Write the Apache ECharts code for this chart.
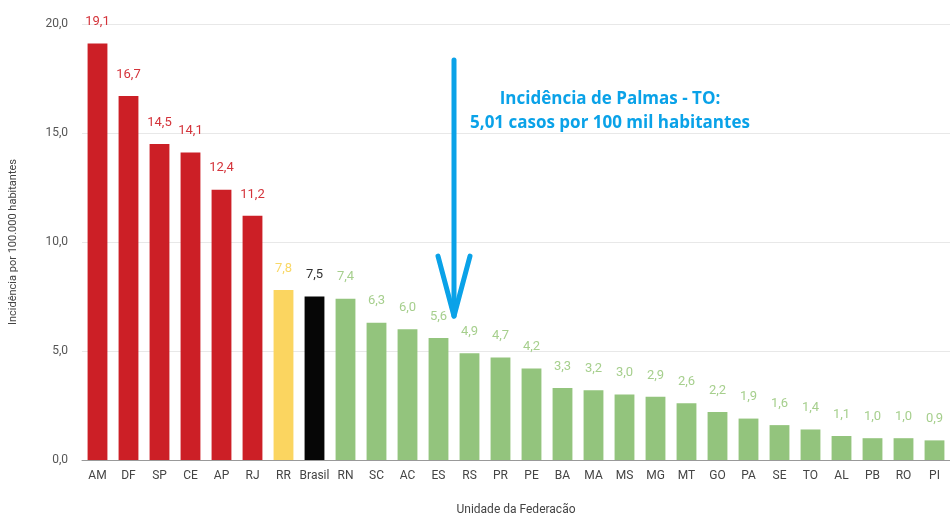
<!DOCTYPE html>
<html><head><meta charset="utf-8">
<script src="https://cdn.jsdelivr.net/npm/echarts@6/dist/echarts.min.js"></script>
<style>html,body{margin:0;padding:0;background:#fff}#c{width:950px;height:521px}</style>
</head><body><div id="c"></div>
<script>
const categories = ['AM','DF','SP','CE','AP','RJ','RR','Brasil','RN','SC','AC','ES','RS','PR','PE','BA','MA','MS','MG','MT','GO','PA','SE','TO','AL','PB','RO','PI'];
const values = [19.1,16.7,14.5,14.1,12.4,11.2,7.8,7.5,7.4,6.3,6.0,5.6,4.9,4.7,4.2,3.3,3.2,3.0,2.9,2.6,2.2,1.9,1.6,1.4,1.1,1.0,1.0,0.9];
const groups = ['red','red','red','red','red','red','yellow','black','green','green','green','green','green','green','green','green','green','green','green','green','green','green','green','green','green','green','green','green'];
const yTicks = [0,5,10,15,20];
const barColors = {red:'#cc1f26', yellow:'#fbd560', black:'#060606', green:'#93c47d'};
const labelColors = {red:'#d4333a', yellow:'#f9d867', black:'#333333', green:'#a6cf8d'};
const annotationLines = ['Incidência de Palmas - TO:', '5,01 casos por 100 mil habitantes'];

const chart = echarts.init(document.getElementById('c'));
const fmt = v => v.toFixed(1).replace('.', ',');
chart.setOption({
  animation:false,
  grid:{left:81, right:0, top:24, bottom:60},
  xAxis:{type:'category', data:categories,
    axisLine:{lineStyle:{color:'#999',width:1}}, axisTick:{show:false},
    axisLabel:{color:'#444', fontSize:12, fontFamily:'Roboto', margin:10, interval:0},
    name:'Unidade da Federacão', nameLocation:'middle', nameGap:44,
    nameTextStyle:{color:'#444', fontSize:12, fontFamily:'Roboto'}},
  yAxis:{type:'value', min:yTicks[0], max:yTicks[yTicks.length-1], interval:5,
    axisLine:{show:false}, axisTick:{show:false},
    splitLine:{lineStyle:{color:'#e8e8e8'}},
    axisLabel:{color:'#555', fontSize:12, fontFamily:'Roboto', margin:14, formatter:v=>fmt(v)},
    name:'Incidência por 100.000 habitantes', nameLocation:'middle', nameGap:63, nameRotate:90,
    nameTextStyle:{color:'#444', fontSize:11, fontFamily:'Roboto'}},
  series:[{type:'bar', barWidth:'64%',
    data:values.map((v,i)=>({value:v,
      itemStyle:{color:barColors[groups[i]]},
      label:{color:labelColors[groups[i]]}})),
    label:{show:true, position:'top', distance:15, fontSize:13, fontFamily:'Roboto',
      formatter:p=>fmt(p.value)}
  }]
});

function drawAnnotation(){
  const es = categories.indexOf('ES'), rs = categories.indexOf('RS');
  const pEs = chart.convertToPixel({xAxisIndex:0,yAxisIndex:0},[es,18.35]);
  const pRs = chart.convertToPixel({xAxisIndex:0,yAxisIndex:0},[rs,6.6]);
  const x = (pEs[0] + pRs[0]) / 2;
  const yTop = pEs[1], yTip = pRs[1];
  const c = '#0aa2e8';
  chart.setOption({graphic:[
    {type:'line', shape:{x1:x,y1:yTop,x2:x,y2:yTip}, style:{stroke:c,lineWidth:5,lineCap:'round'}},
    {type:'polyline', shape:{points:[[x-16,yTip-60],[x,yTip],[x+16,yTip-60]]}, style:{stroke:c,lineWidth:5,lineCap:'round',lineJoin:'round',fill:null}},
    {type:'text', x:610, y:99, style:{text:annotationLines[0], fill:c, font:'bold 17px "Open Sans"', textAlign:'center', textVerticalAlign:'middle'}},
    {type:'text', x:610, y:123, style:{text:annotationLines[1], fill:c, font:'bold 17px "Open Sans"', textAlign:'center', textVerticalAlign:'middle'}}
  ]});
}
drawAnnotation();
</script></body></html>
